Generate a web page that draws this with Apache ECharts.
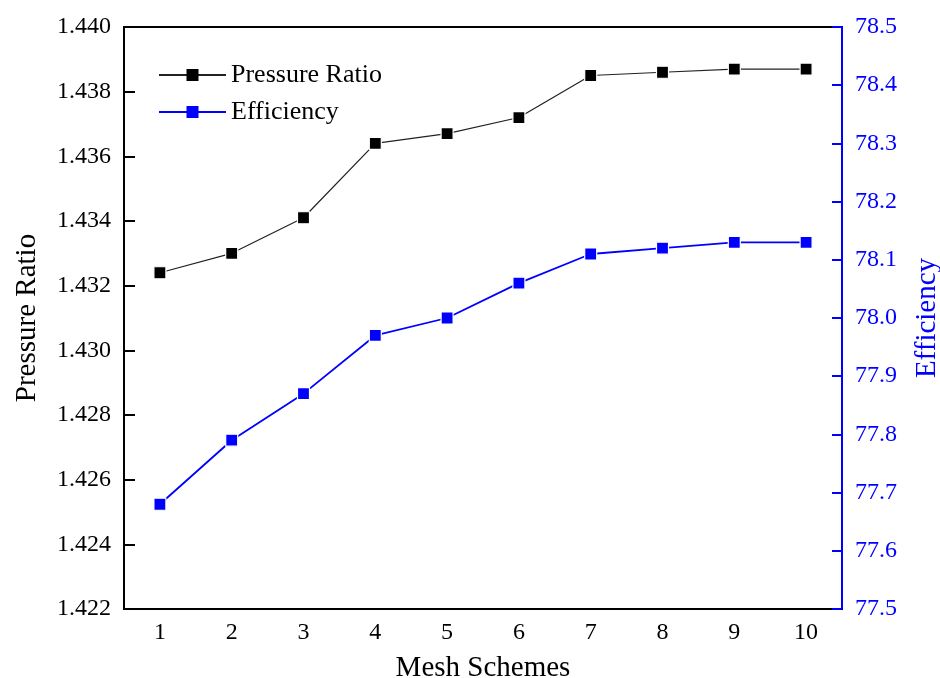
<!DOCTYPE html>
<html>
<head>
<meta charset="utf-8">
<title>Mesh independence: pressure ratio and efficiency</title>
<script src="https://cdn.jsdelivr.net/npm/echarts@6/dist/echarts.min.js"></script>
<style>
  html, body { margin: 0; padding: 0; background: #ffffff; }
  #chart { width: 940px; height: 678px; }
</style>
</head>
<body>
<div id="chart"></div>
<script>
// Mesh schemes on the x axis
const meshSchemes = ['1', '2', '3', '4', '5', '6', '7', '8', '9', '10'];
// Total pressure ratio per mesh scheme (left axis)
const pressureRatio = [1.4324, 1.4330, 1.4341, 1.4364, 1.4367, 1.4372, 1.4385, 1.4386, 1.4387, 1.4387];
// Isentropic efficiency in % per mesh scheme (right axis)
const efficiency = [77.68, 77.79, 77.87, 77.97, 78.00, 78.06, 78.11, 78.12, 78.13, 78.13];

const FONT = '"Liberation Serif", "DejaVu Serif", serif';
const BLUE = '#0000ff';
const BLACK = '#000000';

const chart = echarts.init(document.getElementById('chart'), null, { renderer: 'canvas' });

chart.setOption({
  animation: false,
  backgroundColor: '#ffffff',
  textStyle: { fontFamily: FONT },
  grid: {
    left: 124, right: 98, top: 27, bottom: 69,
    containLabel: false,
    outerBoundsMode: 'none',
    show: true, borderColor: BLACK, borderWidth: 2, backgroundColor: 'transparent'
  },
  legend: {
    orient: 'vertical',
    left: 153, top: 57,
    itemWidth: 67, itemHeight: 15, itemGap: 11,
    itemStyle: { borderWidth: 0 },
    textStyle: { fontFamily: FONT, fontSize: 26, color: BLACK },
    data: ['Pressure Ratio', 'Efficiency']
  },
  xAxis: {
    type: 'category',
    data: meshSchemes,
    boundaryGap: true,
    name: 'Mesh Schemes',
    nameLocation: 'middle',
    nameGap: 45,
    nameTextStyle: { fontFamily: FONT, fontSize: 29, color: BLACK },
    axisLine: { lineStyle: { color: BLACK, width: 2 } },
    axisTick: { inside: true, alignWithLabel: true, length: 11, lineStyle: { color: BLACK, width: 2 } },
    axisLabel: { fontFamily: FONT, fontSize: 24, color: BLACK, margin: 12 },
    splitLine: { show: false }
  },
  yAxis: [
    {
      type: 'value',
      position: 'left',
      min: 1.422, max: 1.440, interval: 0.002,
      name: 'Pressure Ratio',
      nameLocation: 'middle',
      nameRotate: 90,
      nameGap: 82,
      nameTextStyle: { fontFamily: FONT, fontSize: 29, color: BLACK },
      axisLine: { show: true, lineStyle: { color: BLACK, width: 2 } },
      axisTick: { show: true, inside: true, length: 11, lineStyle: { color: BLACK, width: 2 } },
      axisLabel: {
        fontFamily: FONT, fontSize: 24, color: BLACK, margin: 13,
        formatter: v => v.toFixed(3)
      },
      splitLine: { show: false }
    },
    {
      type: 'value',
      position: 'right',
      min: 77.5, max: 78.5, interval: 0.1,
      name: 'Efficiency',
      nameLocation: 'middle',
      nameRotate: 90,
      nameGap: 71,
      nameTextStyle: { fontFamily: FONT, fontSize: 29, color: BLUE },
      axisLine: { show: true, lineStyle: { color: BLUE, width: 2 } },
      axisTick: { show: true, inside: true, length: 10, lineStyle: { color: BLUE, width: 2 } },
      axisLabel: {
        fontFamily: FONT, fontSize: 24, color: BLUE, margin: 13,
        formatter: v => v.toFixed(1)
      },
      splitLine: { show: false }
    }
  ],
  series: [
    {
      name: 'Pressure Ratio',
      type: 'line',
      yAxisIndex: 0,
      data: pressureRatio,
      symbol: 'rect',
      symbolSize: 12,
      itemStyle: { color: BLACK, borderColor: '#ffffff', borderWidth: 1.2 },
      lineStyle: { color: '#222222', width: 1.2 },
      z: 3
    },
    {
      name: 'Efficiency',
      type: 'line',
      yAxisIndex: 1,
      data: efficiency,
      symbol: 'rect',
      symbolSize: 12,
      itemStyle: { color: BLUE, borderColor: '#ffffff', borderWidth: 1.2 },
      lineStyle: { color: BLUE, width: 1.8 },
      z: 3
    }
  ]
});
</script>
</body>
</html>
